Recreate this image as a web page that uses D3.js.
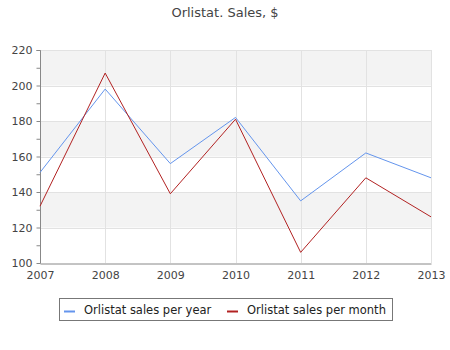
<!DOCTYPE html>
<html>
<head>
<meta charset="utf-8">
<script src="https://cdn.jsdelivr.net/npm/d3@7"></script>
<style>
  html, body { margin: 0; padding: 0; background: #fff; }
  svg { display: block; font-family: "DejaVu Sans", sans-serif; }
</style>
</head>
<body>
<svg id="chart" width="450" height="350"></svg>
<script>
const years = [2007, 2008, 2009, 2010, 2011, 2012, 2013];
const salesPerYear = [151, 198, 156, 182, 135, 162, 148];
const salesPerMonth = [132, 207, 139, 181, 106, 148, 126];
const yTicks = [100, 120, 140, 160, 180, 200, 220];
const seriesNames = ["Orlistat sales per year", "Orlistat sales per month"];
const seriesColors = ["#6495ED", "#B22222"];

const svg = d3.select("#chart");
const plotLeft = 40, plotRight = 431, plotTop = 50, plotBottom = 263;

const x = d3.scaleLinear().domain([2007, 2013]).range([plotLeft, plotRight]);
const y = d3.scaleLinear().domain([100, 220]).range([plotBottom, plotTop]);

// alternating horizontal bands
const bands = d3.pairs(yTicks).filter((_, i) => i % 2 === 1);
svg.append("g").selectAll("rect").data(bands).join("rect")
  .attr("x", plotLeft).attr("width", plotRight - plotLeft)
  .attr("y", d => y(d[1])).attr("height", d => y(d[0]) - y(d[1]))
  .attr("fill", "#f3f3f3");

// gridlines
const grid = svg.append("g").attr("stroke", "#e2e2e2").attr("stroke-width", 1);
grid.selectAll("line.h").data(yTicks.slice(1)).join("line")
  .attr("x1", plotLeft).attr("x2", plotRight)
  .attr("y1", d => Math.round(y(d)) + 0.5).attr("y2", d => Math.round(y(d)) + 0.5);
grid.selectAll("line.v").data(years.slice(1)).join("line")
  .attr("y1", plotTop).attr("y2", plotBottom)
  .attr("x1", d => Math.round(x(d)) + 0.5).attr("x2", d => Math.round(x(d)) + 0.5);

// y axis with minor ticks every 10
const yAxis = d3.axisLeft(y).tickValues(d3.range(100, 221, 10)).tickSize(4)
  .tickFormat(d => yTicks.includes(d) ? d : "");
const gy = svg.append("g").attr("transform", `translate(${plotLeft + 0.5},0)`).call(yAxis);
gy.select(".domain").attr("stroke", "#888").attr("d", `M-4,${plotTop + 0.5}H0V${plotBottom + 0.5}`);
gy.selectAll(".tick line").attr("stroke", "#888");
gy.selectAll(".tick text").attr("fill", "#444").attr("font-size", 11)
  .attr("font-family", "DejaVu Sans, sans-serif").attr("x", -8);

// x axis
const xAxis = d3.axisBottom(x).tickValues(years).tickSize(0).tickFormat(d3.format("d"));
const gx = svg.append("g").attr("transform", `translate(0,${plotBottom + 0.5})`).call(xAxis);
gx.select(".domain").attr("stroke", "#888");
gx.selectAll(".tick text").attr("fill", "#444").attr("font-size", 11)
  .attr("font-family", "DejaVu Sans, sans-serif").attr("dy", "1.15em");

// lines
const line = d3.line().x((d, i) => x(years[i])).y(d => y(d));
[salesPerYear, salesPerMonth].forEach((vals, k) => {
  svg.append("path").datum(vals)
    .attr("d", line).attr("fill", "none")
    .attr("stroke", seriesColors[k]).attr("stroke-width", 1);
});

// title
svg.append("text").attr("x", 225).attr("y", 17).attr("text-anchor", "middle")
  .attr("fill", "#444").attr("font-size", 13).text("Orlistat. Sales, $");

// legend
const legend = svg.append("g");
legend.append("rect").attr("x", 59.5).attr("y", 298.5).attr("width", 333).attr("height", 22)
  .attr("fill", "#fff").attr("stroke", "#777");
const legendX = [64, 227];
seriesNames.forEach((name, k) => {
  legend.append("line").attr("x1", legendX[k]).attr("x2", legendX[k] + 11)
    .attr("y1", 311.5).attr("y2", 311.5)
    .attr("stroke", seriesColors[k]).attr("stroke-width", 2);
  legend.append("text").attr("x", legendX[k] + 20).attr("y", 314)
    .attr("fill", "#222").attr("font-size", 11.5).text(name);
});
</script>
</body>
</html>
